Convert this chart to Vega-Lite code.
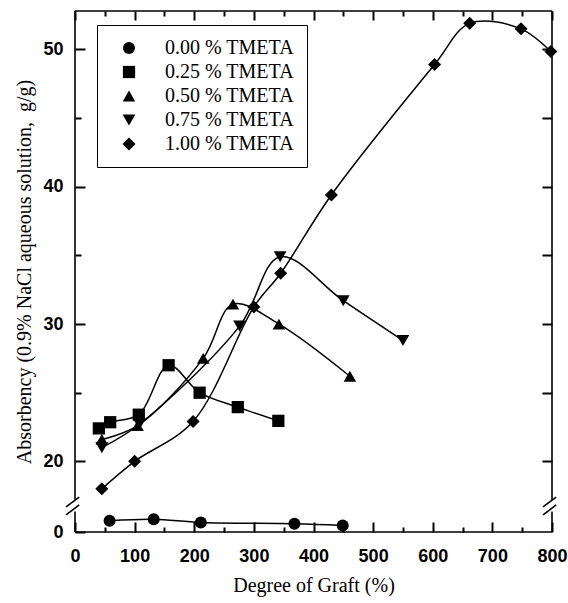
{
  "$schema": "https://vega.github.io/schema/vega-lite/v6.json",
  "autosize": {"type": "none"},
  "padding": {"left": 75, "top": 11, "right": 16, "bottom": 71},
  "width": 477,
  "height": 521,
  "background": "white",
  "config": {"view": {"stroke": null}, "axis": {"grid": false, "domain": false}},
  "data": {"values": [
    {"tmeta": "0.00 % TMETA", "graft": 58, "abs": 0.82},
    {"tmeta": "0.00 % TMETA", "graft": 132, "abs": 0.93},
    {"tmeta": "0.00 % TMETA", "graft": 211, "abs": 0.69},
    {"tmeta": "0.00 % TMETA", "graft": 368, "abs": 0.6},
    {"tmeta": "0.00 % TMETA", "graft": 449, "abs": 0.48},
    {"tmeta": "0.25 % TMETA", "graft": 40, "abs": 22.4},
    {"tmeta": "0.25 % TMETA", "graft": 59, "abs": 22.85},
    {"tmeta": "0.25 % TMETA", "graft": 107, "abs": 23.4},
    {"tmeta": "0.25 % TMETA", "graft": 157, "abs": 27.0},
    {"tmeta": "0.25 % TMETA", "graft": 209, "abs": 25.0},
    {"tmeta": "0.25 % TMETA", "graft": 273, "abs": 23.95},
    {"tmeta": "0.25 % TMETA", "graft": 341, "abs": 22.95},
    {"tmeta": "0.50 % TMETA", "graft": 45, "abs": 21.6},
    {"tmeta": "0.50 % TMETA", "graft": 105, "abs": 22.6},
    {"tmeta": "0.50 % TMETA", "graft": 215, "abs": 27.5},
    {"tmeta": "0.50 % TMETA", "graft": 265, "abs": 31.45},
    {"tmeta": "0.50 % TMETA", "graft": 342, "abs": 30.0},
    {"tmeta": "0.50 % TMETA", "graft": 461, "abs": 26.2},
    {"tmeta": "0.75 % TMETA", "graft": 45, "abs": 21.0},
    {"tmeta": "0.75 % TMETA", "graft": 108, "abs": 22.7},
    {"tmeta": "0.75 % TMETA", "graft": 276, "abs": 29.85},
    {"tmeta": "0.75 % TMETA", "graft": 344, "abs": 34.9},
    {"tmeta": "0.75 % TMETA", "graft": 450, "abs": 31.7},
    {"tmeta": "0.75 % TMETA", "graft": 550, "abs": 28.8},
    {"tmeta": "1.00 % TMETA", "graft": 45, "abs": 18.0},
    {"tmeta": "1.00 % TMETA", "graft": 100, "abs": 20.0},
    {"tmeta": "1.00 % TMETA", "graft": 198, "abs": 22.9},
    {"tmeta": "1.00 % TMETA", "graft": 300, "abs": 31.25},
    {"tmeta": "1.00 % TMETA", "graft": 345, "abs": 33.7},
    {"tmeta": "1.00 % TMETA", "graft": 430, "abs": 39.4},
    {"tmeta": "1.00 % TMETA", "graft": 603, "abs": 48.9},
    {"tmeta": "1.00 % TMETA", "graft": 662, "abs": 51.9},
    {"tmeta": "1.00 % TMETA", "graft": 748, "abs": 51.5},
    {"tmeta": "1.00 % TMETA", "graft": 798, "abs": 49.85}
  ]},
  "resolve": {"axis": {"x": "independent", "y": "independent"}},
  "layer": [
    {
      "data": {"values": [{}]},
      "mark": {"type": "rule", "color": "black", "strokeWidth": 1.6},
      "encoding": {
        "x": {"datum": 0, "type": "quantitative", "scale": {"domain": [0, 800], "nice": false, "zero": false},
          "axis": {"orient": "bottom", "values": [50, 150, 250, 350, 450, 550, 650, 750], "tickSize": -5, "tickColor": "black", "tickWidth": 2, "labels": false, "title": null}},
        "y": {"datum": 17.2, "type": "quantitative", "scale": {"domain": [0, 1.5, 17.2, 52.8], "range": [521, 500.4, 488.8, 0], "nice": false, "zero": false},
          "axis": {"orient": "left", "values": [25, 35, 45], "tickSize": -6, "tickColor": "black", "tickWidth": 2, "labels": false, "title": null}},
        "y2": {"datum": 52.8}
      }
    },
    {
      "data": {"values": [{}]},
      "mark": {"type": "rule", "color": "black", "strokeWidth": 1.6},
      "encoding": {
        "x": {"datum": 0, "type": "quantitative", "axis": null, "scale": {"domain": [0, 800], "nice": false, "zero": false}},
        "y": {"datum": 0, "type": "quantitative", "axis": null, "scale": {"domain": [0, 1.5, 17.2, 52.8], "range": [521, 500.4, 488.8, 0], "nice": false, "zero": false}},
        "y2": {"datum": 1.5}
      }
    },
    {
      "data": {"values": [{}]},
      "mark": {"type": "rule", "color": "black", "strokeWidth": 1.6},
      "encoding": {
        "x": {"datum": 800, "type": "quantitative", "scale": {"domain": [0, 800], "nice": false, "zero": false},
          "axis": {"orient": "top", "values": [50, 150, 250, 350, 450, 550, 650, 750], "tickSize": -5, "tickColor": "black", "tickWidth": 2, "labels": false, "title": null}},
        "y": {"datum": 17.2, "type": "quantitative", "axis": null, "scale": {"domain": [0, 1.5, 17.2, 52.8], "range": [521, 500.4, 488.8, 0], "nice": false, "zero": false}},
        "y2": {"datum": 52.8}
      }
    },
    {
      "data": {"values": [{}]},
      "mark": {"type": "rule", "color": "black", "strokeWidth": 1.6},
      "encoding": {
        "x": {"datum": 800, "type": "quantitative", "axis": null, "scale": {"domain": [0, 800], "nice": false, "zero": false}},
        "y": {"datum": 0, "type": "quantitative", "axis": null, "scale": {"domain": [0, 1.5, 17.2, 52.8], "range": [521, 500.4, 488.8, 0], "nice": false, "zero": false}},
        "y2": {"datum": 1.5}
      }
    },
    {
      "data": {"values": [{}]},
      "mark": {"type": "rule", "color": "black", "strokeWidth": 1.6},
      "encoding": {
        "x": {"datum": 0, "type": "quantitative", "axis": null, "scale": {"domain": [0, 800], "nice": false, "zero": false}},
        "x2": {"datum": 800},
        "y": {"datum": 0, "type": "quantitative", "axis": null, "scale": {"domain": [0, 1.5, 17.2, 52.8], "range": [521, 500.4, 488.8, 0], "nice": false, "zero": false}}
      }
    },
    {
      "data": {"values": [{}]},
      "mark": {"type": "rule", "color": "black", "strokeWidth": 1.6},
      "encoding": {
        "x": {"datum": 0, "type": "quantitative", "axis": null, "scale": {"domain": [0, 800], "nice": false, "zero": false}},
        "x2": {"datum": 800},
        "y": {"datum": 52.8, "type": "quantitative", "axis": null, "scale": {"domain": [0, 1.5, 17.2, 52.8], "range": [521, 500.4, 488.8, 0], "nice": false, "zero": false}}
      }
    },
    {
      "data": {"values": [{}]},
      "mark": {"type": "rule", "color": "black", "strokeWidth": 1.6},
      "encoding": {
        "x": {"datum": -15, "type": "quantitative", "axis": null, "scale": {"domain": [0, 800], "nice": false, "zero": false}},
        "x2": {"datum": 7},
        "y": {"datum": 1.24, "type": "quantitative", "axis": null, "scale": {"domain": [0, 1.5, 17.2, 52.8], "range": [521, 500.4, 488.8, 0], "nice": false, "zero": false}},
        "y2": {"datum": 10.2}
      }
    },
    {
      "data": {"values": [{}]},
      "mark": {"type": "rule", "color": "black", "strokeWidth": 1.6},
      "encoding": {
        "x": {"datum": -15, "type": "quantitative", "axis": null, "scale": {"domain": [0, 800], "nice": false, "zero": false}},
        "x2": {"datum": 7},
        "y": {"datum": 7.5, "type": "quantitative", "axis": null, "scale": {"domain": [0, 1.5, 17.2, 52.8], "range": [521, 500.4, 488.8, 0], "nice": false, "zero": false}},
        "y2": {"datum": 17.4}
      }
    },
    {
      "data": {"values": [{}]},
      "mark": {"type": "rule", "color": "black", "strokeWidth": 1.6},
      "encoding": {
        "x": {"datum": 785, "type": "quantitative", "axis": null, "scale": {"domain": [0, 800], "nice": false, "zero": false}},
        "x2": {"datum": 807},
        "y": {"datum": 1.24, "type": "quantitative", "axis": null, "scale": {"domain": [0, 1.5, 17.2, 52.8], "range": [521, 500.4, 488.8, 0], "nice": false, "zero": false}},
        "y2": {"datum": 10.2}
      }
    },
    {
      "data": {"values": [{}]},
      "mark": {"type": "rule", "color": "black", "strokeWidth": 1.6},
      "encoding": {
        "x": {"datum": 785, "type": "quantitative", "axis": null, "scale": {"domain": [0, 800], "nice": false, "zero": false}},
        "x2": {"datum": 807},
        "y": {"datum": 7.5, "type": "quantitative", "axis": null, "scale": {"domain": [0, 1.5, 17.2, 52.8], "range": [521, 500.4, 488.8, 0], "nice": false, "zero": false}},
        "y2": {"datum": 17.4}
      }
    },
    {
      "transform": [{"filter": "datum.tmeta === '0.00 % TMETA'"}],
      "mark": {"type": "line", "color": "black", "strokeWidth": 1.5, "interpolate": "catmull-rom"},
      "encoding": {
        "x": {
          "field": "graft", "type": "quantitative",
          "scale": {"domain": [0, 800], "nice": false, "zero": false},
          "axis": {
            "orient": "bottom",
            "values": [0, 100, 200, 300, 400, 500, 600, 700, 800],
            "tickSize": -10, "tickColor": "black", "tickWidth": 2,
            "labelPadding": 25,
            "labelFont": "Liberation Sans", "labelFontWeight": "bold", "labelFontSize": 18, "labelColor": "black",
            "labelFlush": false, "labelOverlap": false, "labelBaseline": "top",
            "title": "Degree of Graft (%)",
            "titleFont": "Liberation Serif", "titleFontSize": 20, "titleFontWeight": "normal", "titleColor": "black", "titlePadding": 10
          }
        },
        "y": {
          "field": "abs", "type": "quantitative",
          "scale": {"domain": [0, 1.5, 17.2, 52.8], "range": [521, 500.4, 488.8, 0], "nice": false, "zero": false},
          "axis": {
            "orient": "left",
            "values": [0, 20, 30, 40, 50],
            "tickSize": -10, "tickColor": "black", "tickWidth": 2,
            "labelPadding": 22,
            "labelFont": "Liberation Sans", "labelFontWeight": "bold", "labelFontSize": 18, "labelColor": "black",
            "labelFlush": false, "labelOverlap": false,
            "title": "Absorbency (0.9% NaCl aqueous solution,\u00a0 g/g)",
            "titleFont": "Liberation Serif", "titleFontSize": 20, "titleFontWeight": "normal", "titleColor": "black", "titlePadding": 8
          }
        }
      }
    },
    {
      "transform": [{"filter": "datum.tmeta === '0.25 % TMETA'"}],
      "mark": {"type": "line", "color": "black", "strokeWidth": 1.5, "interpolate": "catmull-rom"},
      "encoding": {
        "x": {"field": "graft", "type": "quantitative", "axis": null, "scale": {"domain": [0, 800], "nice": false, "zero": false}},
        "y": {"field": "abs", "type": "quantitative", "axis": null, "scale": {"domain": [0, 1.5, 17.2, 52.8], "range": [521, 500.4, 488.8, 0], "nice": false, "zero": false}}
      }
    },
    {
      "transform": [{"filter": "datum.tmeta === '0.50 % TMETA'"}],
      "mark": {"type": "line", "color": "black", "strokeWidth": 1.5, "interpolate": "catmull-rom"},
      "encoding": {
        "x": {"field": "graft", "type": "quantitative", "axis": null, "scale": {"domain": [0, 800], "nice": false, "zero": false}},
        "y": {"field": "abs", "type": "quantitative", "axis": null, "scale": {"domain": [0, 1.5, 17.2, 52.8], "range": [521, 500.4, 488.8, 0], "nice": false, "zero": false}}
      }
    },
    {
      "transform": [{"filter": "datum.tmeta === '0.75 % TMETA'"}],
      "mark": {"type": "line", "color": "black", "strokeWidth": 1.5, "interpolate": "catmull-rom"},
      "encoding": {
        "x": {"field": "graft", "type": "quantitative", "axis": null, "scale": {"domain": [0, 800], "nice": false, "zero": false}},
        "y": {"field": "abs", "type": "quantitative", "axis": null, "scale": {"domain": [0, 1.5, 17.2, 52.8], "range": [521, 500.4, 488.8, 0], "nice": false, "zero": false}}
      }
    },
    {
      "transform": [{"filter": "datum.tmeta === '1.00 % TMETA'"}],
      "mark": {"type": "line", "color": "black", "strokeWidth": 1.5, "interpolate": "catmull-rom"},
      "encoding": {
        "x": {"field": "graft", "type": "quantitative", "axis": null, "scale": {"domain": [0, 800], "nice": false, "zero": false}},
        "y": {"field": "abs", "type": "quantitative", "axis": null, "scale": {"domain": [0, 1.5, 17.2, 52.8], "range": [521, 500.4, 488.8, 0], "nice": false, "zero": false}}
      }
    },
    {
      "mark": {"type": "point", "filled": true, "color": "black", "opacity": 1},
      "encoding": {
        "x": {
          "field": "graft", "type": "quantitative",
          "scale": {"domain": [0, 800], "nice": false, "zero": false},
          "axis": {"orient": "top", "values": [0, 100, 200, 300, 400, 500, 600, 700, 800], "tickSize": -9, "tickColor": "black", "tickWidth": 2, "labels": false, "title": null}
        },
        "y": {
          "field": "abs", "type": "quantitative",
          "scale": {"domain": [0, 1.5, 17.2, 52.8], "range": [521, 500.4, 488.8, 0], "nice": false, "zero": false},
          "axis": {"orient": "right", "values": [20, 25, 30, 35, 40, 45, 50], "tickSize": -10, "tickColor": "black", "tickWidth": 2, "labels": false, "title": null}
        },
        "shape": {
          "field": "tmeta", "type": "nominal",
          "scale": {
            "domain": ["0.00 % TMETA", "0.25 % TMETA", "0.50 % TMETA", "0.75 % TMETA", "1.00 % TMETA"],
            "range": ["circle", "square", "triangle-up", "triangle-down", "diamond"]
          },
          "legend": {
            "orient": "none", "legendX": 22, "legendY": 14, "direction": "vertical",
            "title": null,
            "strokeColor": "black", "fillColor": "white",
            "padding": 13, "rowPadding": 4,
            "symbolOffset": 9, "labelOffset": 26,
            "symbolFillColor": "black", "symbolStrokeColor": "black",
            "labelFont": "Liberation Serif", "labelFontSize": 20, "labelColor": "black", "labelLimit": 400
          }
        },
        "size": {
          "field": "tmeta", "type": "nominal",
          "scale": {
            "domain": ["0.00 % TMETA", "0.25 % TMETA", "0.50 % TMETA", "0.75 % TMETA", "1.00 % TMETA"],
            "range": [144, 169, 196, 196, 289]
          }
        }
      }
    }
  ]
}
